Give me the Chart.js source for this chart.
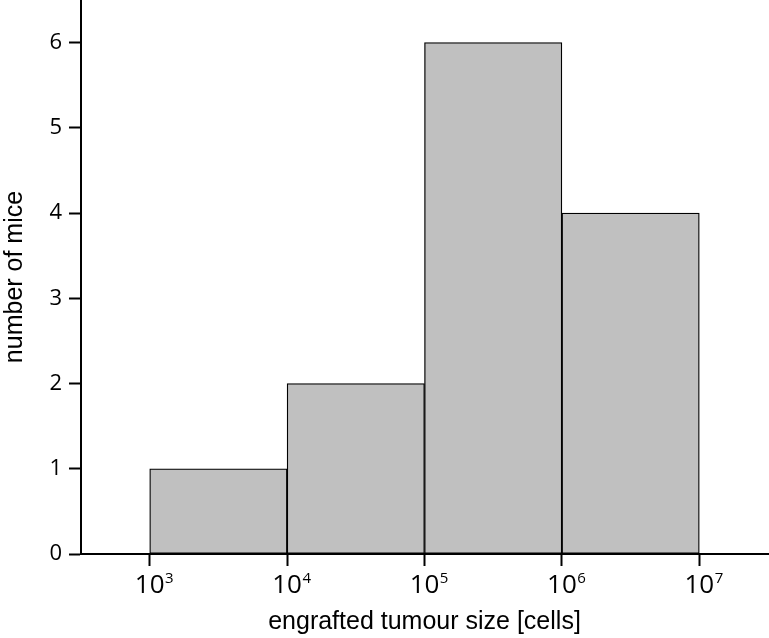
<!DOCTYPE html>
<html>
<head>
<meta charset="utf-8">
<script src="https://cdn.jsdelivr.net/npm/chart.js@4/dist/chart.umd.min.js"></script>
<style>
  html, body { margin: 0; padding: 0; background: #ffffff; }
  #wrap { width: 769px; height: 638px; position: relative; }
</style>
</head>
<body>
<div id="wrap"><canvas id="c"></canvas></div>
<script>
// ---- data ----
const binLowExp  = [3, 4, 5, 6];          // bin lower edge, log10(cells)
const binHighExp = [4, 5, 6, 7];          // bin upper edge, log10(cells)
const mouseCounts = [1, 2, 6, 4];         // number of mice per bin
const xTickExps = [3, 4, 5, 6, 7];        // x tick labels: 10^n
const yTickValues = [0, 1, 2, 3, 4, 5, 6];
const xTitle = 'engrafted tumour size [cells]';
const yTitle = 'number of mice';

const barPoints = binLowExp.map((lo, i) => ({ x: (lo + binHighExp[i]) / 2, y: mouseCounts[i] }));

const powerLabels = {
  id: 'powerLabels',
  afterDraw(chart) {
    const scale = chart.scales.x;
    const ctx = chart.ctx;
    ctx.save();
    ctx.fillStyle = '#000';
    const base = scale.top + 39;
    scale.ticks.forEach(t => {
      const px = scale.getPixelForValue(t.value);
      ctx.font = '26px "Open Sans"';
      ctx.textAlign = 'center';
      ctx.textBaseline = 'alphabetic';
      ctx.fillText('10', px, base);
      const w = ctx.measureText('10').width;
      ctx.font = '15px "Open Sans"';
      ctx.textAlign = 'left';
      ctx.fillText(String(t.value), px + w / 2 + 0.5, base - 10);
    });
    ctx.restore();
  }
};

new Chart(document.getElementById('c'), {
  type: 'bar',
  data: {
    datasets: [{
      data: barPoints,
      backgroundColor: '#c0c0c0',
      borderColor: '#000000',
      borderWidth: 1.3,
      borderSkipped: false,
      barPercentage: 1,
      categoryPercentage: 1
    }]
  },
  options: {
    responsive: true,
    maintainAspectRatio: false,
    animation: false,
    layout: { padding: { top: 0, right: 1, bottom: 0, left: 0 } },
    plugins: { legend: { display: false }, tooltip: { enabled: false } },
    scales: {
      x: {
        type: 'linear',
        min: 2.5,
        max: 7.5,
        offset: false,
        afterBuildTicks: s => { s.ticks = xTickExps.map(v => ({ value: v })); },
        afterFit: s => { s.height = 84; s.paddingLeft = 0; s.paddingRight = 0; },
        ticks: { display: false },
        grid: { offset: false, drawOnChartArea: false, drawTicks: true, tickLength: 12, tickWidth: 2, tickColor: '#000' },
        border: { display: true, color: '#000', width: 2 },
        title: {
          display: true, text: xTitle, color: '#000',
          font: { family: '"Liberation Sans", Arial, sans-serif', size: 25 },
          padding: { top: 0, bottom: 1 }
        }
      },
      y: {
        min: 0,
        max: 6.5,
        afterBuildTicks: s => { s.ticks = yTickValues.map(v => ({ value: v })); },
        afterFit: s => { s.width = 81; s.paddingTop = 0; s.paddingBottom = 0; },
        ticks: {
          color: '#000', padding: 7,
          font: { family: '"Open Sans", sans-serif', size: 22 }
        },
        grid: { offset: false, drawOnChartArea: false, drawTicks: true, tickLength: 12, tickWidth: 2, tickColor: '#000' },
        border: { display: true, color: '#000', width: 2 },
        title: {
          display: true, text: yTitle, color: '#000',
          font: { family: '"Liberation Sans", Arial, sans-serif', size: 25 },
          padding: 0
        }
      }
    }
  },
  plugins: [powerLabels]
});
</script>
</body>
</html>
